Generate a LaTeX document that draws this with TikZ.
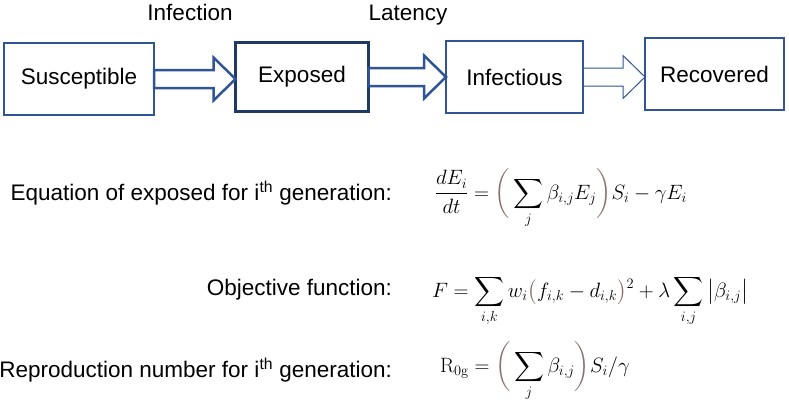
\documentclass[tikz,border=0pt]{standalone}
\usepackage[no-math]{fontspec}
\setmainfont{Liberation Sans}
\usepackage{amsmath}
\usetikzlibrary{calc}
\definecolor{boxblue}{RGB}{47,85,151}
\definecolor{darknavy}{RGB}{31,56,100}
\definecolor{parbrown}{RGB}{140,112,108}
\newcommand{\bpar}[1]{{\color{parbrown}#1}}
% hollow block arrow from the east side of one box to the west side of the next
\newcommand{\blockarr}[3]{%
    \draw[#1] ($(#2.east)+(0,-9)$) -- ($(#3.west |- #2.east)+(-22,-9)$)
        -- ($(#3.west |- #2.east)+(-22,-21.5)$) -- (#3.west |- #2.east)
        -- ($(#3.west |- #2.east)+(-22,21.5)$) -- ($(#3.west |- #2.east)+(-22,9)$)
        -- ($(#2.east)+(0,9)$) -- cycle;}
\tikzset{
    every node/.style={font=\fontsize{22.5}{27}\selectfont, inner sep=0pt, outer sep=0pt},
    statebox/.style={draw=boxblue, line width=1.3pt, minimum height=72pt},
    boldbox/.style={draw=darknavy, line width=3pt, minimum height=69pt},
    fatarrow/.style={draw=boxblue, line width=2.5pt, line join=miter},
    thinarrow/.style={draw=boxblue, line width=1pt, line join=miter},
    caption/.style={anchor=base east},
    formula/.style={anchor=base west}
}

\begin{document}
\begin{tikzpicture}[x=1pt, y=-1pt]
            \fill[white] (0,0) rectangle (789,407);
            \useasboundingbox (0,0) rectangle (789,407);
            \node[statebox, minimum width=150pt] (susc) at (79,79) {Susceptible};
            \node[boldbox, minimum width=133pt] (expo) at (302,77) {Exposed};
            \node[statebox, minimum width=137pt] (infe) at (514.5,77) {Infectious};
            \node[statebox, minimum width=139pt] (reco) at (714.5,74) {Recovered};
            \blockarr{fatarrow}{susc}{expo}
            \blockarr{fatarrow}{expo}{infe}
            \blockarr{thinarrow}{infe}{reco}
            \node[anchor=base] (infection) at (190,20) {Infection};
            \node[anchor=base] (latency) at (408,20) {Latency};
            \node[caption] (eqtext) at (392,200) {Equation of exposed for i\textsuperscript{th} generation:};
            \node[caption] (objtext) at (392,295) {Objective function:};
            \node[caption] (reptext) at (392,377) {Reproduction number for i\textsuperscript{th} generation:};
            \node[formula] (eqexpo) at (435,199)
                {$\displaystyle \frac{dE_i}{dt} = \bpar{\bigg(}\sum_j \beta_{i,j}E_j\bpar{\bigg)} S_i - \gamma E_i$};
            \node[formula] (eqobj) at (432,297)
                {$\displaystyle F = \sum_{i,k} w_i \bpar{\big(}f_{i,k} - d_{i,k}\bpar{\big)}^2 + \lambda \sum_{i,j} \big|\beta_{i,j}\big|$};
            \node[formula] (eqrep) at (440,372)
                {$\displaystyle \mathrm{R}_{0\mathrm{g}} = \bpar{\bigg(}\sum_j \beta_{i,j}\bpar{\bigg)} S_i/\gamma$};
        \end{tikzpicture}
\end{document}
